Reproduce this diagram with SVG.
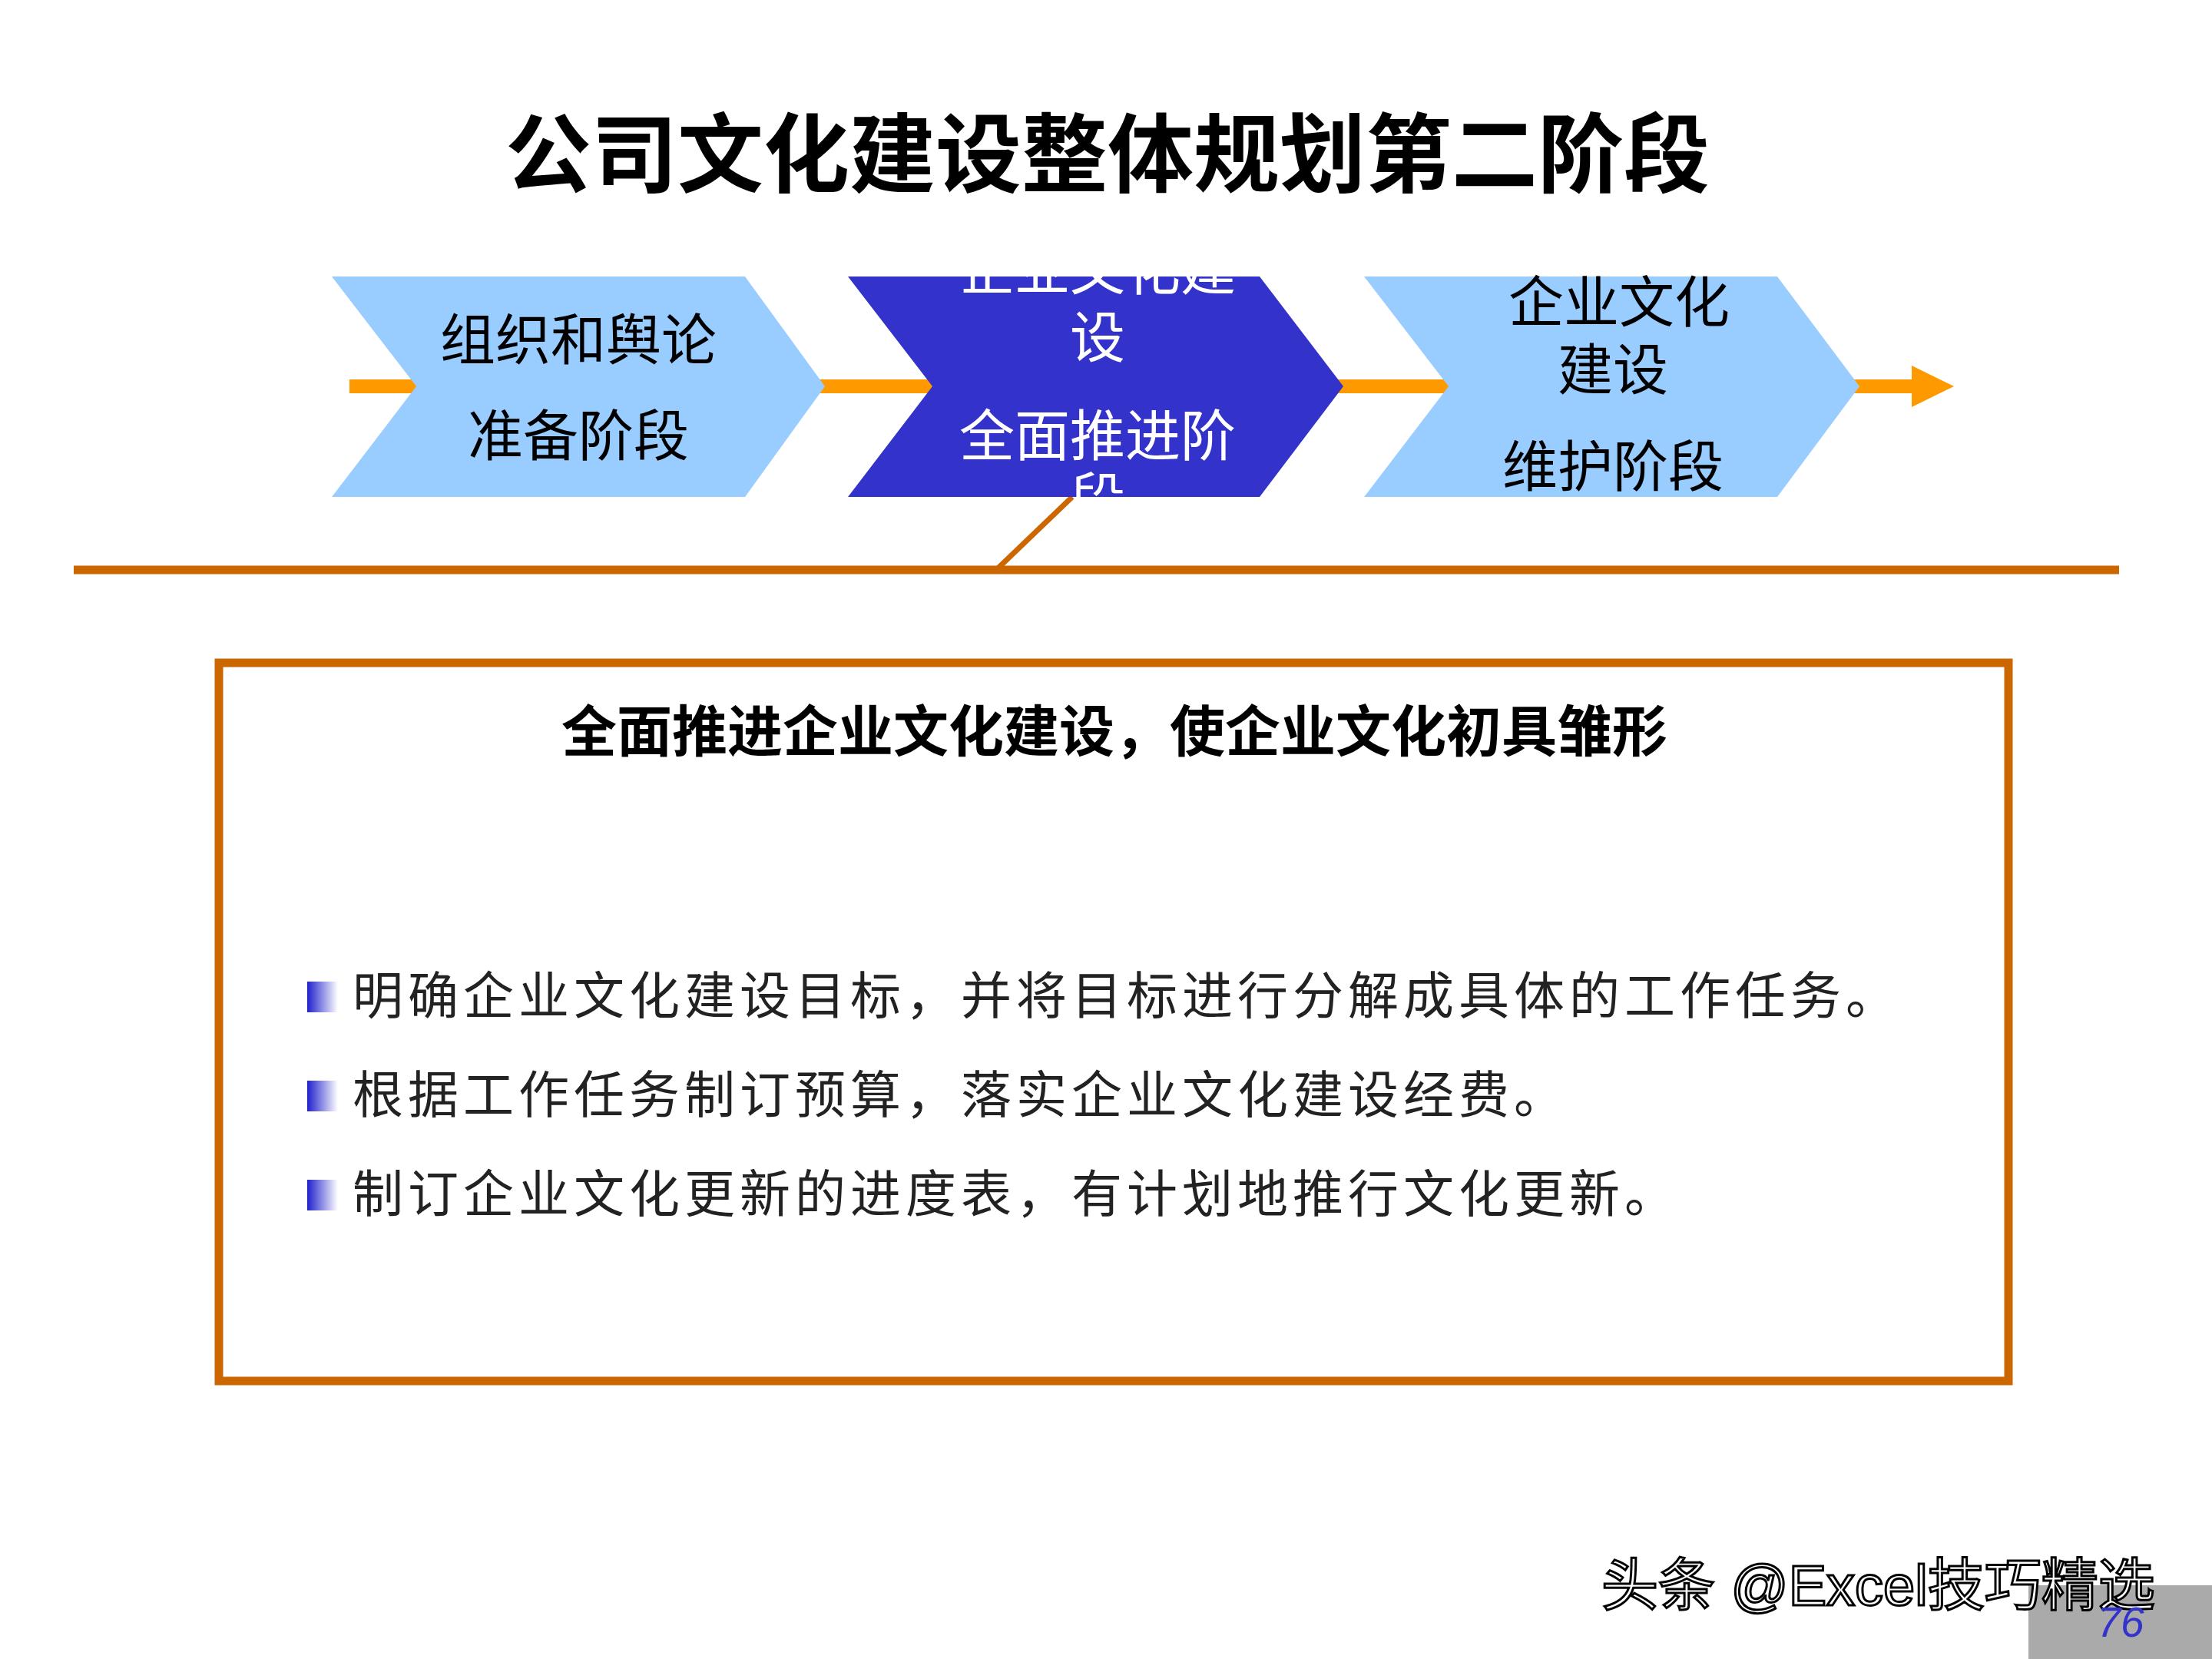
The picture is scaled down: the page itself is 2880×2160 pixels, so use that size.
<svg xmlns="http://www.w3.org/2000/svg" width="2880" height="2160" viewBox="0 0 2880 2160">
<style>
.cn{font-family:"Liberation Sans","Noto Sans CJK SC",sans-serif}
.ct{font-size:72px;text-anchor:middle}
.bl{font-size:66px;fill:#222;letter-spacing:6px}
</style>
<defs>
<linearGradient id="bg" x1="0" x2="1" y1="0" y2="0"><stop offset="0" stop-color="#2020cc"/><stop offset="1" stop-color="#ffffff"/></linearGradient>
<clipPath id="c2"><polygon points="1104,360 1640,360 1749,503 1640,647 1104,647 1214,503"/></clipPath>
</defs>
<rect width="2880" height="2160" fill="#fff"/>
<text class="cn" x="1442" y="242" font-size="112" font-weight="bold" text-anchor="middle">公司文化建设整体规划第二阶段</text>
<g id="connectors">
<line x1="455" y1="503" x2="2495" y2="503" stroke="#FF9900" stroke-width="18"/>
<polygon points="2489,476 2544,503 2489,530" fill="#FF9900"/>
<line x1="96" y1="742" x2="2759" y2="742" stroke="#CC6600" stroke-width="11"/>
<line x1="1396" y1="647" x2="1297" y2="742" stroke="#CC6600" stroke-width="7"/>
</g>
<g id="n1">
<polygon points="432,360 970,360 1074,503 970,647 432,647 542,503" fill="#99CCFF"/>
<text class="cn ct" x="753" y="468">组织和舆论</text>
<text class="cn ct" x="753" y="593">准备阶段</text>
</g>
<g id="n2">
<polygon points="1104,360 1640,360 1749,503 1640,647 1104,647 1214,503" fill="#3333CC"/>
<g clip-path="url(#c2)" fill="#fff">
<text class="cn ct" x="1429" y="377">企业文化建</text>
<text class="cn ct" x="1429" y="465">设</text>
<text class="cn ct" x="1429" y="593">全面推进阶</text>
<text class="cn ct" x="1429" y="675">段</text>
</g>
</g>
<g id="n3">
<polygon points="1776,360 2314,360 2421,503 2314,647 1776,647 1886,503" fill="#99CCFF"/>
<text class="cn ct" x="2108" y="419">企业文化</text>
<text class="cn ct" x="2100" y="507">建设</text>
<text class="cn ct" x="2100" y="633">维护阶段</text>
</g>
<g id="box">
<rect x="285" y="863" width="2330" height="935" fill="none" stroke="#CC6600" stroke-width="11"/>
<text class="cn" x="1451" y="978" font-size="72" font-weight="bold" text-anchor="middle">全面推进企业文化建设，使企业文化初具雏形</text>
<rect x="400" y="1278" width="40" height="40" fill="url(#bg)"/>
<rect x="400" y="1407" width="40" height="40" fill="url(#bg)"/>
<rect x="400" y="1536" width="40" height="40" fill="url(#bg)"/>
<text class="cn bl" x="459" y="1320">明确企业文化建设目标，并将目标进行分解成具体的工作任务。</text>
<text class="cn bl" x="459" y="1449">根据工作任务制订预算，落实企业文化建设经费。</text>
<text class="cn bl" x="459" y="1578">制订企业文化更新的进度表，有计划地推行文化更新。</text>
</g>
<rect x="2641" y="2064" width="239" height="96" fill="#AAAAAA"/>
<text class="cn" x="2085" y="2090" font-size="74" fill="#fff" stroke="#000" stroke-width="3">头条 @Excel技巧精选</text>
<text class="cn" x="2761" y="2131" font-size="55" font-style="italic" fill="#3333CC" text-anchor="middle">76</text>
</svg>
